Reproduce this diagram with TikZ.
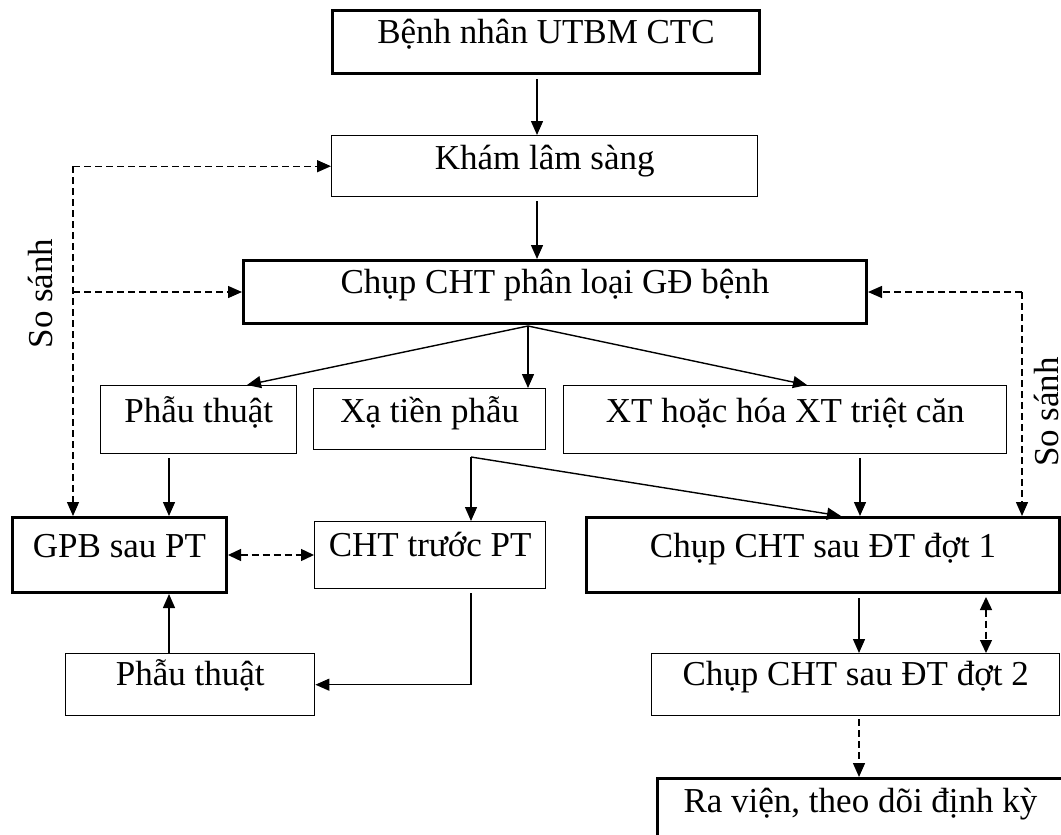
\documentclass[tikz,border=0pt]{standalone}
\usepackage{fontspec}
\setmainfont{Liberation Serif}
\usetikzlibrary{arrows.meta}
\begin{document}
\begin{tikzpicture}[x=1pt,y=-1pt,
  every node/.style={font=\fontsize{35}{42}\selectfont},
  box/.style={draw, line width=1.4pt, inner sep=0pt, anchor=north west, text height=34pt},
  thickbox/.style={box, line width=3pt},
  arr/.style={line width=1.4pt, -{Triangle[length=14pt,width=12pt]}},
  darr/.style={arr, dash pattern=on 7pt off 4pt},
  dbarr/.style={line width=1.4pt, dash pattern=on 7pt off 4pt, {Triangle[length=13pt,width=12pt]}-{Triangle[length=13pt,width=12pt]}},
  lbl/.style={rotate=90, anchor=base, inner sep=0pt, text depth=0pt}
]
\useasboundingbox (0,0) rectangle (1061,835);
\clip (0,0) rectangle (1061,835);
\fill[white] (0,0) rectangle (1061,835);

% boxes
\node[thickbox, minimum width=427pt, text height=33pt, text depth=30pt] (b1) at (331,9) {Bệnh nhân UTBM CTC};
\node[box, minimum width=426pt, text depth=27pt] (b2) at (331,135) {Khám lâm sàng};
\node[thickbox, minimum width=623pt, text height=33pt, text depth=30pt] (b3) at (242,259) {Chụp CHT phân loại GĐ bệnh};
\node[box, minimum width=196pt, text height=37pt, text depth=31pt] (pt1) at (100,385) {Phẫu thuật};
\node[box, minimum width=232pt, text depth=27pt] (xa) at (313,388) {Xạ tiền phẫu};
\node[box, minimum width=443pt, text height=37pt, text depth=31pt] (xt) at (563,385) {XT hoặc hóa XT triệt căn};
\node[thickbox, minimum width=214pt, text height=40pt, text depth=35pt] (gpb) at (11,516) {GPB sau PT};
\node[box, minimum width=231pt, text height=35pt, text depth=32pt] (cht) at (314,521) {CHT trước PT};
\node[thickbox, minimum width=473pt, text height=40pt, text depth=35pt] (c1) at (585,516) {Chụp CHT sau ĐT đợt 1};
\node[box, minimum width=249pt, text height=32pt, text depth=30pt] (pt2) at (65,653) {Phẫu thuật};
\node[box, minimum width=408pt, text height=32pt, text depth=30pt] (c2) at (651,653) {Chụp CHT sau ĐT đợt 2};
\node[thickbox, minimum width=406pt, text depth=36pt] (rv) at (656,777) {Ra viện, theo dõi định kỳ};

% side labels
\node[lbl] (ss1) at (52,293.5) {So sánh};
\node[lbl] (ss2) at (1058,412) {So sánh};

% helper coordinates
\coordinate (cx) at (537,0);
\coordinate (F) at (528,326);
\coordinate (tp1) at (247,0);
\coordinate (tp3) at (807,0);
\coordinate (L) at (73,0);
\coordinate (R) at (1022,0);
\coordinate (gx) at (169,0);
\coordinate (S) at (471,457);
\coordinate (dx) at (841,0);
\coordinate (ex) at (860,0);
\coordinate (cx2) at (859,0);
\coordinate (bx) at (986,0);

% connectors
\draw[arr, shorten <=4pt] (b1.south -| cx) -- (b2.north -| cx);
\draw[arr, shorten <=4pt] (b2.south -| cx) -- (b3.north -| cx);
\draw[arr] (F) -- (pt1.north -| tp1);
\draw[arr] (F) -- (xa.north -| F);
\draw[arr] (F) -- (xt.north -| tp3);

\draw[darr] (L |- b2.west) -- (b2.west);
\draw[darr] (L |- b3.west) -- (b3.west);
\draw[darr] (L |- b2.west) -- (gpb.north -| L);

\draw[darr] (R |- b3.east) -- (b3.east);
\draw[darr] (R |- b3.east) -- (c1.north -| R);

\draw[arr, shorten <=4pt] (pt1.south -| gx) -- (gpb.north -| gx);
\draw[arr] (S) -- (cht.north -| S);
\draw[arr] (S) -- (c1.north -| dx);
\draw[arr, shorten <=4pt] (xt.south -| ex) -- (c1.north -| ex);
\draw[dbarr] (gpb.east) -- (cht.west |- gpb.east);
\draw[arr] (pt2.north -| gx) -- (gpb.south -| gx);
\draw[arr, shorten <=4pt] (cht.south -| S) |- (pt2.east);
\draw[arr, shorten <=4pt] (c1.south -| cx2) -- (c2.north -| cx2);
\draw[dbarr, shorten <=3pt] (c1.south -| bx) -- (c2.north -| bx);
\draw[darr, shorten <=3pt] (c2.south -| cx2) -- (rv.north -| cx2);
\end{tikzpicture}
\end{document}
